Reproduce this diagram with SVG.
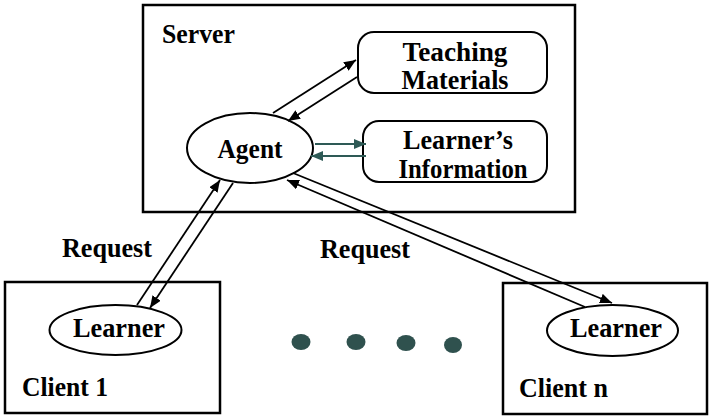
<svg xmlns="http://www.w3.org/2000/svg" width="710" height="417" viewBox="0 0 710 417">
  <style>
    .box { fill: #ffffff; stroke: #000000; stroke-width: 2.5; }
    .node { fill: #ffffff; stroke: #000000; stroke-width: 2; }
    .lbl { font-family: "Liberation Serif", "Times New Roman", serif; font-weight: bold; fill: #000000; font-size: 26.5px; }
    .mid { text-anchor: middle; }
    .link { stroke: #000000; stroke-width: 1.8; fill: none; marker-end: url(#head); }
    .tlink { stroke: #2e5a56; stroke-width: 2; fill: none; marker-end: url(#thead); }
    .dot { fill: #2f514e; }
  </style>
  <defs>
    <marker id="head" markerUnits="userSpaceOnUse" markerWidth="14" markerHeight="10" refX="12" refY="5" orient="auto">
      <path d="M0,0 L12,5 L0,10 Z" fill="#000000"/>
    </marker>
    <marker id="thead" markerUnits="userSpaceOnUse" markerWidth="14" markerHeight="10" refX="12" refY="5" orient="auto">
      <path d="M0,0 L12,5 L0,10 Z" fill="#2e5a56"/>
    </marker>
  </defs>

  <!-- server container -->
  <g id="server">
    <rect class="box" x="143" y="5" width="432" height="207"/>
    <text class="lbl" x="162" y="42.5" textLength="73" lengthAdjust="spacingAndGlyphs">Server</text>
  </g>

  <g id="teaching-materials">
    <rect class="node" x="358" y="32" width="189" height="61" rx="16"/>
    <text class="lbl mid" x="455" y="61" textLength="105" lengthAdjust="spacingAndGlyphs">Teaching</text>
    <text class="lbl mid" x="455" y="89" textLength="107" lengthAdjust="spacingAndGlyphs">Materials</text>
  </g>

  <g id="learners-information">
    <rect class="node" x="363" y="121" width="184" height="61" rx="16"/>
    <text class="lbl mid" x="458" y="149" textLength="110" lengthAdjust="spacingAndGlyphs">Learner’s</text>
    <text class="lbl mid" x="463" y="178" textLength="129" lengthAdjust="spacingAndGlyphs">Information</text>
  </g>

  <g id="agent">
    <ellipse class="node" cx="250" cy="148" rx="63" ry="35"/>
    <text class="lbl mid" x="250" y="157.5" textLength="65" lengthAdjust="spacingAndGlyphs">Agent</text>
  </g>

  <!-- clients -->
  <g id="client-1">
    <rect class="box" x="5" y="282" width="215" height="131"/>
    <text class="lbl" x="22" y="396" textLength="86" lengthAdjust="spacingAndGlyphs">Client 1</text>
  </g>
  <g id="learner-1">
    <ellipse class="node" cx="115.5" cy="330" rx="66" ry="25"/>
    <text class="lbl mid" x="119" y="337" textLength="92" lengthAdjust="spacingAndGlyphs">Learner</text>
  </g>

  <g id="client-n">
    <rect class="box" x="503" y="283" width="204" height="131"/>
    <text class="lbl" x="519" y="397" textLength="89" lengthAdjust="spacingAndGlyphs">Client n</text>
  </g>
  <g id="learner-n">
    <ellipse class="node" cx="612.5" cy="330.5" rx="65.5" ry="25.5"/>
    <text class="lbl mid" x="616" y="337" textLength="92" lengthAdjust="spacingAndGlyphs">Learner</text>
  </g>

  <!-- ellipsis between clients -->
  <g id="more-clients">
    <ellipse class="dot" cx="301" cy="342" rx="9.5" ry="8"/>
    <ellipse class="dot" cx="356" cy="342" rx="9.5" ry="8"/>
    <ellipse class="dot" cx="406" cy="343" rx="9.5" ry="8"/>
    <ellipse class="dot" cx="453" cy="345" rx="9" ry="8"/>
  </g>

  <!-- request labels -->
  <g id="labels">
    <text class="lbl" x="62" y="257" textLength="90" lengthAdjust="spacingAndGlyphs">Request</text>
    <text class="lbl" x="320" y="258" textLength="90" lengthAdjust="spacingAndGlyphs">Request</text>
  </g>

  <!-- connectors -->
  <g id="connectors">
    <line class="link" x1="273" y1="113" x2="356" y2="60"/>
    <line class="link" x1="357" y1="77" x2="288" y2="121"/>
    <line class="tlink" x1="315" y1="144" x2="366" y2="144"/>
    <line class="tlink" x1="366" y1="156" x2="311" y2="156"/>
    <line class="link" x1="137" y1="305" x2="220" y2="180"/>
    <line class="link" x1="233" y1="183" x2="150" y2="308"/>
    <line class="link" x1="585" y1="307" x2="287" y2="180"/>
    <line class="link" x1="293" y1="173" x2="612" y2="303"/>
  </g>
</svg>
